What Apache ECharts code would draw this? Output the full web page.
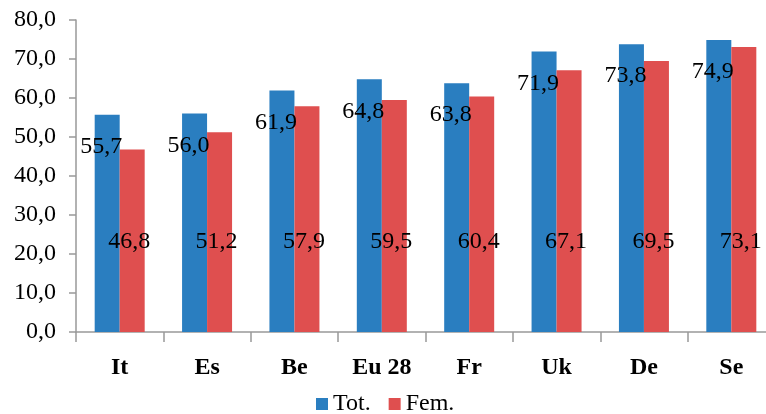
<!DOCTYPE html>
<html><head><meta charset="utf-8">
<script src="https://cdn.jsdelivr.net/npm/echarts@6/dist/echarts.min.js"></script>
<style>html,body{margin:0;padding:0;background:#fff}#c{width:766px;height:414px}</style>
</head><body><div id="c"></div>
<script>
const categories = ['It', 'Es', 'Be', 'Eu 28', 'Fr', 'Uk', 'De', 'Se'];
const totValues = [55.7, 56.0, 61.9, 64.8, 63.8, 71.9, 73.8, 74.9];
const femValues = [46.8, 51.2, 57.9, 59.5, 60.4, 67.1, 69.5, 73.1];
const seriesNames = ['Tot.', 'Fem.'];
const yTicks = [0, 10, 20, 30, 40, 50, 60, 70, 80];

const fmt = v => Number(v).toFixed(1).replace('.', ',');
const font = '"Liberation Serif", "Times New Roman", serif';

const chart = echarts.init(document.getElementById('c'), null, {renderer: 'canvas'});
chart.setOption({
  animation: false,
  backgroundColor: '#ffffff',
  textStyle: {fontFamily: font},
  grid: {left: 76, width: 699, top: 20, bottom: 82, containLabel: false, outerBoundsMode: 'none'},
  legend: {
    data: seriesNames,
    left: 311, top: 387,
    itemWidth: 12, itemHeight: 12, itemGap: 18,
    icon: 'rect',
    textStyle: {fontFamily: font, fontSize: 24, color: '#000'}
  },
  xAxis: {
    type: 'category',
    data: categories,
    axisLine: {lineStyle: {color: '#999', width: 1.5}},
    axisTick: {show: true, length: 10, lineStyle: {color: '#999', width: 1.5}},
    axisLabel: {fontFamily: font, fontSize: 24, fontWeight: 'bold', color: '#000', margin: 24}
  },
  yAxis: {
    type: 'value',
    min: yTicks[0], max: yTicks[yTicks.length - 1], interval: yTicks[1] - yTicks[0],
    splitLine: {show: false},
    axisLine: {show: true, lineStyle: {color: '#999', width: 1.5}},
    axisTick: {show: true, length: 7, lineStyle: {color: '#999', width: 1.5}},
    axisLabel: {fontFamily: font, fontSize: 24, color: '#000', margin: 20, formatter: fmt}
  },
  series: [
    {
      name: seriesNames[0], type: 'bar', data: totValues,
      barWidth: 25, barGap: '0%', barCategoryGap: '43%',
      itemStyle: {color: '#2a7ec0'},
      label: {show: true, position: 'insideTop', distance: 0, offset: [-6, 20],
        formatter: p => fmt(p.value), fontFamily: font, fontSize: 24, color: '#000'}
    },
    {
      name: seriesNames[1], type: 'bar', data: femValues,
      barWidth: 25, barGap: '0%',
      itemStyle: {color: '#df4f4f'},
      label: {show: true, position: 'insideBottom', distance: 78, offset: [-3, 0],
        formatter: p => fmt(p.value), fontFamily: font, fontSize: 24, color: '#000'}
    }
  ]
});
</script></body></html>
